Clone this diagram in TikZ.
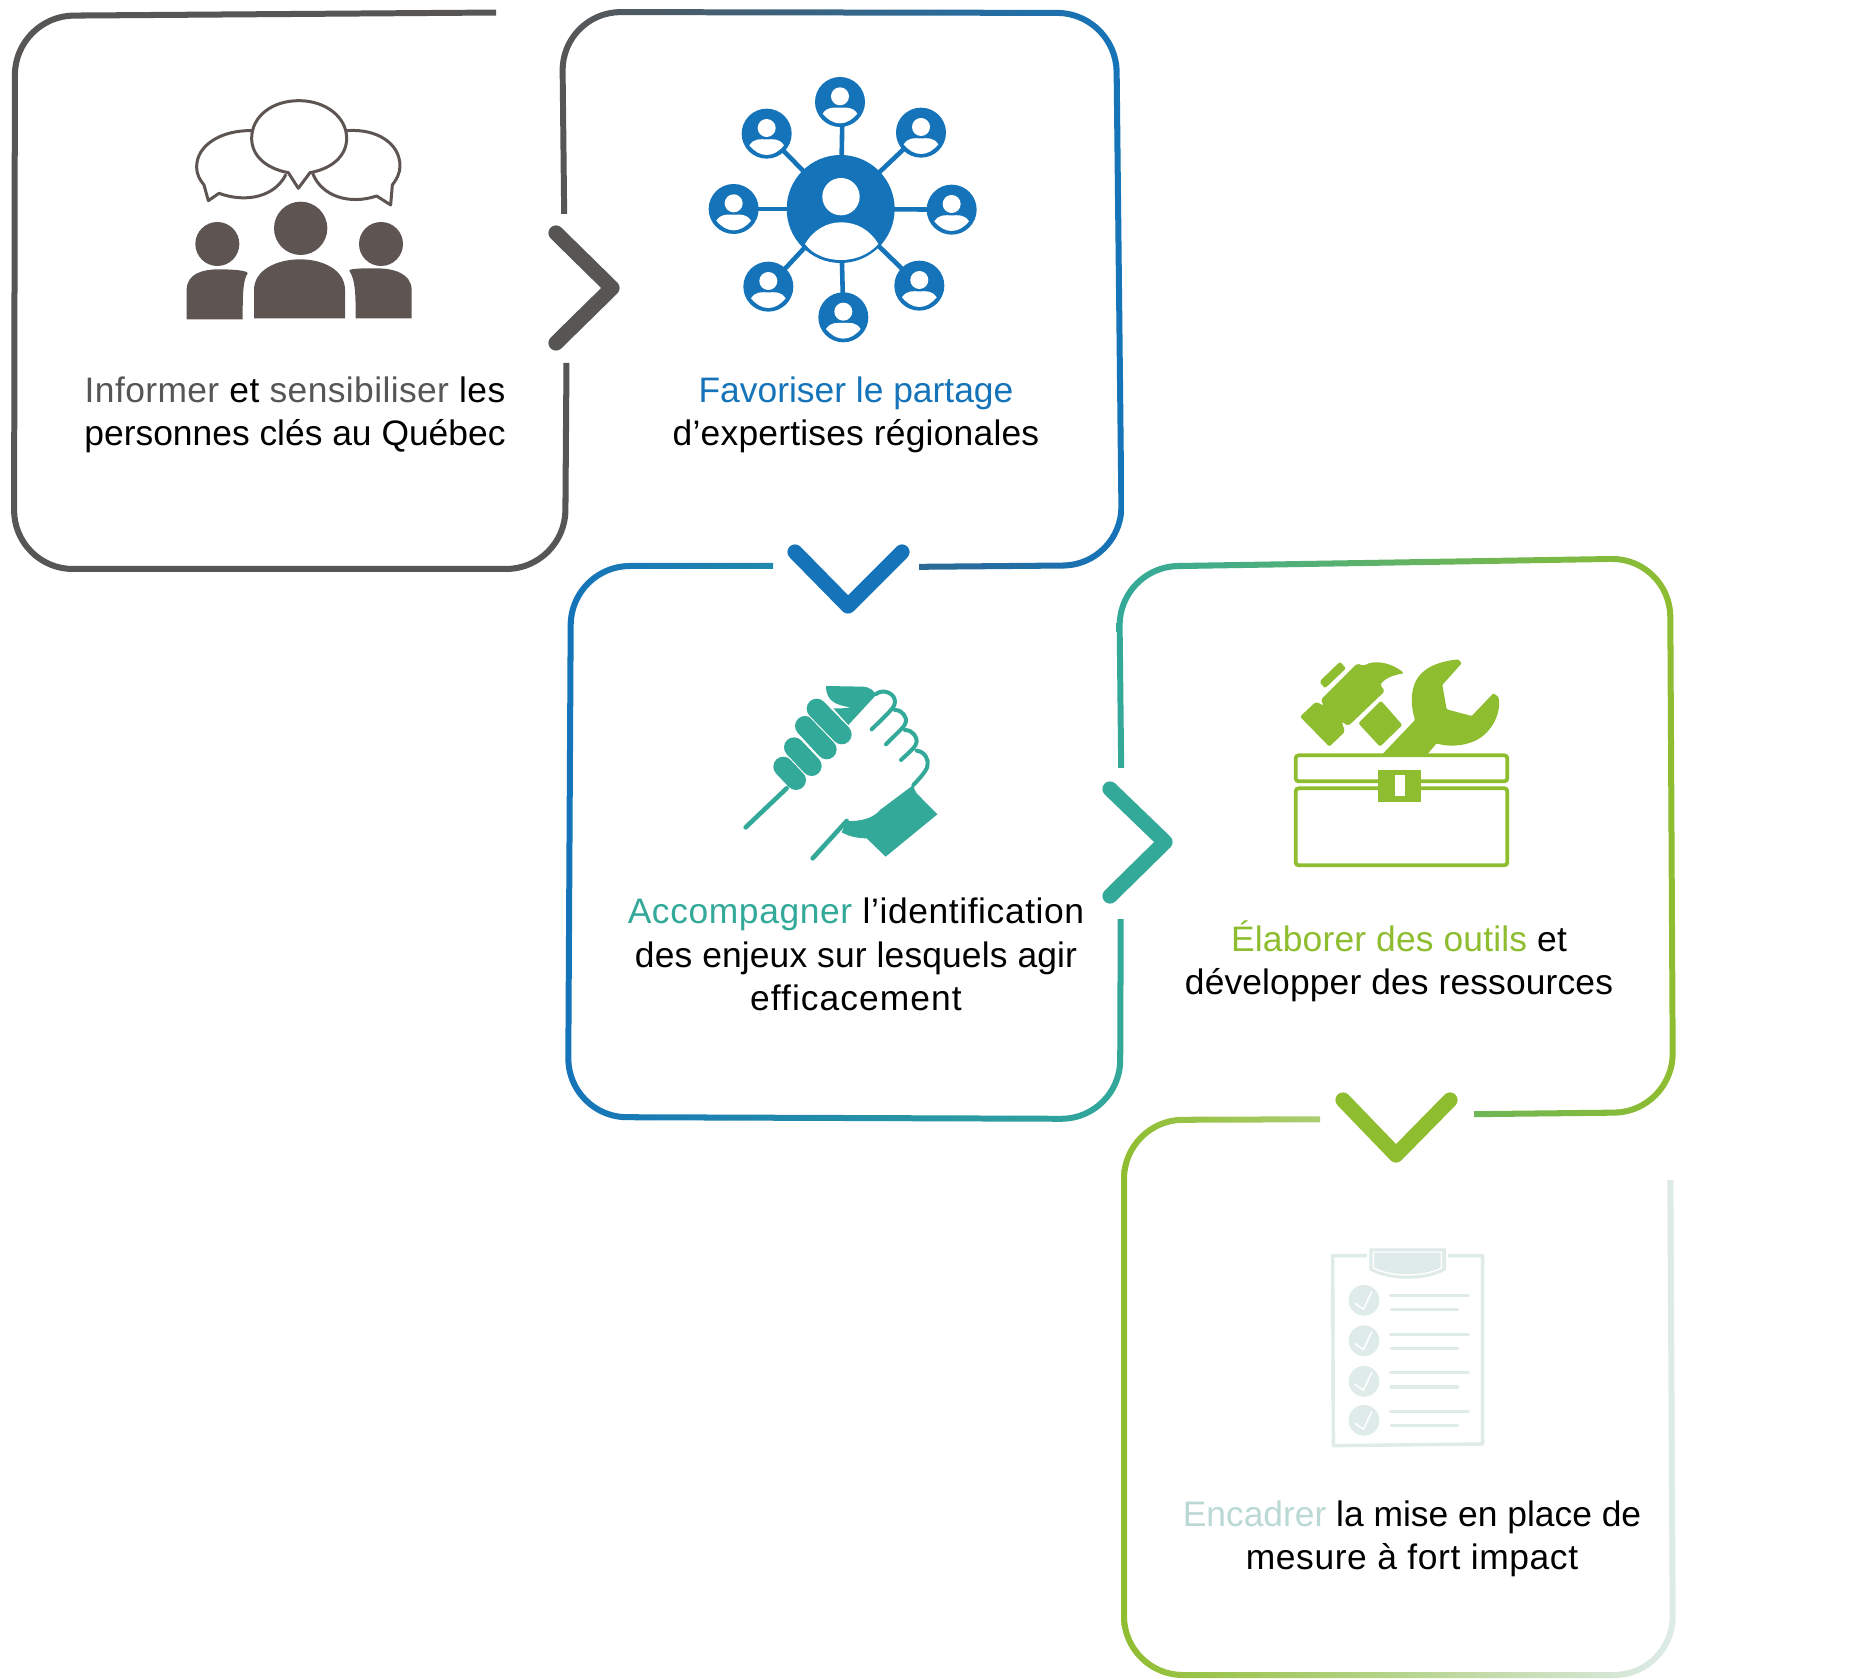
\documentclass[tikz,border=0pt]{standalone}
\usepackage{fontspec}
\setmainfont{Liberation Sans}
\definecolor{cgray}{HTML}{575655}
\definecolor{cicon}{HTML}{5E5553}
\definecolor{cblue}{HTML}{1574B9}
\definecolor{cteal}{HTML}{33A99A}
\definecolor{cgreen}{HTML}{8FBD30}
\definecolor{cpale}{HTML}{DEEBE9}
\definecolor{cpalet}{HTML}{BBD9D4}
\newcommand\ringpath[8]{%
  [rounded corners=31pt] (#1-3,#2-3) -- (#3+3,#4-3) -- (#5+3,#6+3) -- (#7-3,#8+3) -- cycle
  [rounded corners=28pt] (#1+3,#2+3) -- (#3-3,#4+3) -- (#5-3,#6-3) -- (#7+3,#8-3) -- cycle}
\newcommand\ls[2]{{\addfontfeature{LetterSpace=#1}#2}}
\tikzset{
  chev/.style={line width=7.6pt,line cap=round,line join=round},
  lbl/.style={font=\fontsize{17.7}{21.6}\selectfont,align=center,text=black,inner sep=0pt},
  spoke/.style={cblue,line width=2.3pt},
  fing/.style={cteal,line width=10pt,line cap=round},
  halo/.style={white,line width=11pt,line cap=round},
  hstroke/.style={cteal,line width=2pt,line cap=round,line join=round},
  bub/.style={cicon,line width=1.5pt,line join=round,fill=white},
}
\newcommand\smallperson[2]{%
  \fill[cblue] (#1,#2) circle (75);
  \fill[white] (#1,#2-17) circle (27);
  \fill[white] (#1-52,#2+35) .. controls (#1-37,#2+13) and (#1-20,#2+17) .. (#1,#2+17)
     .. controls (#1+20,#2+17) and (#1+37,#2+13) .. (#1+52,#2+35)
     .. controls (#1+37,#2+53) and (#1+20,#2+64) .. (#1,#2+64)
     .. controls (#1-20,#2+64) and (#1-37,#2+53) .. cycle;}
\newcommand\checkrow[3]{%
  \fill[cpale] (132,#1) circle (46);
  \draw[white,line width=.8pt,line cap=round,line join=round] (105,#1+9) -- (130,#1+27) -- (155,#1-26);
  \draw[cpale,line width=1.8pt,line cap=round] (212,#2) -- (445,#2);
  \draw[cpale,line width=1.8pt,line cap=round] (214,#3) -- (413,#3);}
\begin{document}
\begin{tikzpicture}[x=.5pt,y=-.5pt]
\useasboundingbox (0,0) rectangle (1859,1679);
\fill[white] (0,0) rectangle (1859,1679);

% ---- frames
\begin{scope}
\clip (0,0) rectangle (496,700) (496,363) rectangle (610,700);
\fill[cgray,even odd rule] \ringpath{15}{16}{569}{12}{565}{569}{14}{569};
\end{scope}
\begin{scope}
\clip (540,0) rectangle (1200,214) (919,214) rectangle (1200,600);
\shade[left color=cgray,right color=cblue,even odd rule] \ringpath{562}{12}{1116}{13}{1122}{565}{568}{570};
\end{scope}
\begin{scope}
\clip (500,500) rectangle (773,1200) (773,919) rectangle (1200,1200);
\shade[left color=cblue,right color=cteal,even odd rule] \ringpath{571}{566}{1122}{566}{1120}{1119}{568}{1117};
\end{scope}
\begin{scope}
\clip (1090,500) rectangle (1800,768) (1474,768) rectangle (1800,1200);
\shade[left color=cteal,right color=cgreen,even odd rule] \ringpath{1119}{567}{1670}{558}{1673}{1112}{1125}{1118};
\end{scope}
\begin{scope}
\clip (1090,1090) rectangle (1320,1679) (1320,1180) rectangle (1800,1679);
\shade[left color=cgreen,right color=cpale,even odd rule] \ringpath{1124}{1120}{1670}{1118}{1673}{1675}{1124}{1675};
\end{scope}

% ---- chevrons
\draw[chev,cgray] (556,233) -- (612,288) -- (556,343);
\draw[chev,cblue] (795,552) -- (848,606) -- (902,552);
\draw[chev,cteal] (1110,789) -- (1165,842) -- (1110,896);
\draw[chev,cgreen] (1343,1100) -- (1396,1155) -- (1450,1100);

% ---- labels
\node[lbl] (t1) at (295,415) {\ls{1.1}{\textcolor{cgray}{Informer} et \textcolor{cgray}{sensibiliser} les}\\personnes clés au Québec};
\node[lbl] (t2) at (856,415) {\textcolor{cblue}{Favoriser le partage}\\\ls{.6}{d’expertises régionales}};
\node[lbl] (t3) at (856,954.5) {\ls{1.7}{\textcolor{cteal}{Accompagner} l’identification}\\\ls{.4}{des enjeux sur lesquels agir}\\\ls{3}{efficacement}};
\node[lbl] (t4) at (1399,961) {\ls{.5}{\textcolor{cgreen}{Élaborer des outils} et}\\\ls{.4}{développer des ressources}};
\node[lbl] (t5) at (1412,1538.5) {\textcolor{cpalet}{Encadrer} la mise en place de\\\ls{1.7}{mesure à fort impact}};

% ---- icon 1 : people talking
\begin{scope}[shift={(150,60)},scale=1/3]
\draw[bub] (305,212) .. controls (215,210) and (140,255) .. (140,320) .. controls (140,345) and (150,360) .. (162,375) -- (175,422) -- (207,400) .. controls (290,430) and (375,410) .. (408,343);
\draw[bub] (590,212) .. controls (680,205) and (750,250) .. (750,318) .. controls (750,340) and (740,358) .. (727,375) -- (722,435) -- (680,408) .. controls (600,435) and (515,410) .. (488,340);
\draw[bub] (415,338) -- (445,385) -- (480,338) .. controls (550,325) and (590,285) .. (590,235) .. controls (590,170) and (525,122) .. (447,122) .. controls (365,122) and (305,170) .. (305,235) .. controls (305,285) and (345,325) .. (415,338) -- cycle;
\fill[cicon] (452,505) circle (80) (202,552) circle (66) (693,552) circle (66);
\fill[cicon] (312,775) -- (312,690) .. controls (312,630) and (380,598) .. (450,598) .. controls (520,598) and (585,630) .. (585,690) -- (585,775) -- cycle;
\fill[cicon] (110,778) -- (110,690) .. controls (110,640) and (160,628) .. (205,628) .. controls (255,628) and (293,632) .. (293,640) .. controls (280,660) and (278,690) .. (278,778) -- cycle;
\fill[cicon] (785,775) -- (785,690) .. controls (785,640) and (730,625) .. (680,625) .. controls (640,625) and (598,625) .. (598,632) .. controls (615,660) and (617,690) .. (617,775) -- cycle;
\end{scope}

% ---- icon 2 : network
\begin{scope}[shift={(680,60)},scale=1/3]
\coordinate (hub) at (482,447);
\foreach \n/\x/\y in {p1/488/126,p2/723/218,p3/815/449,p4/718/677,p5/490/772,p6/265/680,p7/161/447,p8/260/221}{
  \coordinate (\n) at (\x,\y);
  \draw[spoke] (hub) -- (\n);
}
\smallperson{480}{126}
\smallperson{723}{218}
\smallperson{815}{449}
\smallperson{718}{677}
\smallperson{490}{772}
\smallperson{265}{680}
\smallperson{161}{447}
\smallperson{260}{221}
\fill[cblue] (hub) circle (162);
\fill[white] (483,410) circle (56);
\fill[white] (375,552) .. controls (400,510) and (440,487) .. (483,487) .. controls (530,487) and (570,510) .. (595,552) .. controls (565,585) and (525,600) .. (483,600) .. controls (440,600) and (400,585) .. (375,552) -- cycle;
\end{scope}

% ---- icon 3 : handshake
\begin{scope}[shift={(720,670)},scale=1/3]
\fill[cteal] (318,48) -- (430,50) .. controls (450,52) and (460,60) .. (468,75) -- (385,165) -- (340,115) .. controls (365,115) and (385,115) .. (390,112) .. controls (350,105) and (318,95) .. cycle;
\draw[hstroke,line width=2.3pt] (200,355) -- (77,472);
\draw[fing] (190,290) -- (228,330);
\draw[halo] (222,232) -- (275,288);\draw[fing] (222,232) -- (275,288);
\draw[halo] (255,168) -- (320,238);\draw[fing] (255,168) -- (320,238);
\draw[halo] (290,116) -- (365,193);\draw[fing] (290,116) -- (365,193);
\draw[hstroke] (468,72) .. controls (490,55) and (525,70) .. (525,95) .. controls (525,110) and (515,120) .. (455,178);
\draw[hstroke] (525,120) .. controls (550,120) and (560,145) .. (558,155) .. controls (555,170) and (540,180) .. (498,223);
\draw[hstroke] (555,180) .. controls (580,180) and (592,205) .. (590,215) .. controls (588,230) and (575,240) .. (543,270);
\draw[hstroke] (590,242) .. controls (615,245) and (628,270) .. (622,290) .. controls (618,305) and (590,335) .. (580,345);
\fill[cteal] (580,345) .. controls (582,355) and (585,365) .. (590,370) -- (652,433) -- (497,560) -- (440,505) .. controls (410,505) and (385,498) .. (365,487) -- (380,453) .. controls (420,455) and (460,445) .. (480,420) -- cycle;
\draw[hstroke,line width=2.3pt] (380,453) -- (278,565);
\end{scope}

% ---- icon 4 : toolbox
\begin{scope}[shift={(1280,640)},scale=1/3]
\fill[cgreen,rounded corners=1pt] (60,230) -- (108,185) -- (132,197) -- (122,180) -- (232,70) -- (250,78) .. controls (290,55) and (345,75) .. (372,100) .. controls (340,105) and (315,115) .. (300,135) -- (315,153) -- (205,258) -- (185,245) -- (195,275) -- (148,320) -- cycle;
\fill[cgreen,rounded corners=1pt] (118,125) -- (180,65) -- (198,85) -- (135,145) -- cycle;
\fill[cgreen,rounded corners=1pt] (303,182) -- (367,255) -- (300,320) -- (235,250) -- cycle;
\fill[cgreen,rounded corners=.5pt] (305,345) -- (405,240) .. controls (390,190) and (390,130) .. (430,95) .. controls (460,70) and (500,62) .. (535,58) -- (545,70) -- (487,135) -- (500,208) -- (575,228) -- (640,160) -- (655,170) .. controls (665,220) and (635,275) .. (590,300) .. controls (550,320) and (500,320) .. (470,310) -- (440,345) -- cycle;
\draw[cgreen,line width=1.9pt,rounded corners=1.5pt,fill=white] (47,346) rectangle (682,424);
\draw[cgreen,line width=1.9pt,rounded corners=1.5pt,fill=white] (47,445) rectangle (682,676);
\fill[cgreen] (294,390) rectangle (423,487);
\fill[white] (345,405) rectangle (375,467);
\end{scope}

% ---- icon 5 : checklist
\begin{scope}[shift={(1320,1240)},scale=1/3]
\draw[cpale,line width=1.7pt,line join=round] (38,47) -- (488,47) -- (488,612) -- (40,617) -- cycle;
\fill[white] (140,20) rectangle (385,125);
\fill[cpale] (148,25) -- (378,25) -- (378,90) .. controls (320,125) and (205,125) .. (148,90) -- cycle;
\draw[white,line width=.7pt,line join=round] (160,36) -- (364,36) -- (364,84) .. controls (310,112) and (215,112) .. (160,84) -- cycle;
\checkrow{181}{166}{209}
\checkrow{302}{283}{326}
\checkrow{424}{398}{441}
\checkrow{541}{514}{557}
\end{scope}
\end{tikzpicture}
\end{document}
